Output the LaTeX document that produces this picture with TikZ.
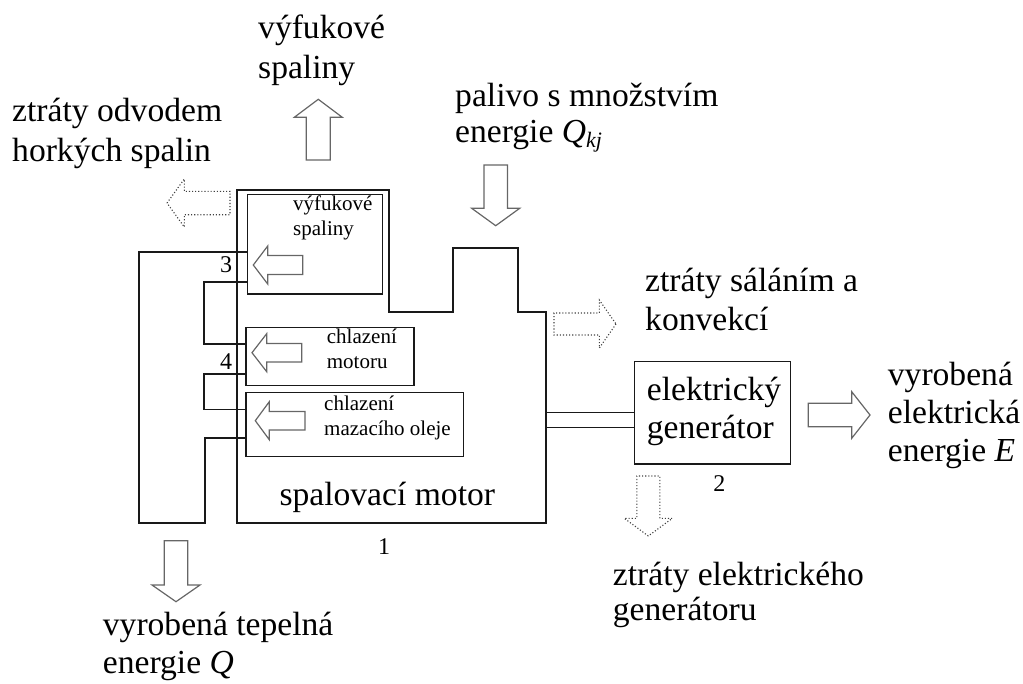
\documentclass[tikz,border=0pt]{standalone}
\usepackage{fontspec}
\setmainfont{Liberation Serif}
\newcommand\blockarrow[7]{%
  % #1 style, #2 tip, #3 direction, #4 total length, #5 head length, #6 head half-width, #7 shaft half-width
  \draw[#1,shift={#2},rotate=#3] (0,0) -- (-#5,#6) -- (-#5,#7) -- (-#4,#7)
    -- (-#4,-#7) -- (-#5,-#7) -- (-#5,-#6) -- cycle;}
\begin{document}
\begin{tikzpicture}[x=1pt,y=-1pt,
  wall/.style={draw=black!90,line width=1.3pt},
  box/.style={draw=black!90,line width=1.3pt,rectangle,inner sep=0pt,anchor=north west},
  flow/.style={draw=black!60,line width=1.2pt,line join=miter},
  loss/.style={draw=black!75,line width=1.1pt,dotted,line join=miter},
  big/.style={inner sep=0pt,anchor=base west,align=left,font=\fontsize{33.6}{38.5}\selectfont},
  small/.style={inner sep=0pt,anchor=base west,align=left,font=\fontsize{21}{24.3}\selectfont},
  num/.style={inner sep=0pt,font=\fontsize{24}{24}\selectfont}]
\useasboundingbox (0,0) rectangle (1023,683);

% engine casing with the fuel inlet step on top
\draw[wall] (237,523) -- (237,190) -- (389,190) -- (389,312) -- (453,312)
  -- (453,248) -- (518,248) -- (518,312) -- (546,312) -- (546,523) -- cycle;
\coordinate (shaftA) at (546,412.3);
\coordinate (shaftB) at (546,427.3);

% heat exchangers inside the engine
\node[box,minimum width=135pt,minimum height=99.3pt] (exh) at (246.7,194) {};
\node[box,minimum width=168pt,minimum height=58.3pt] (cool) at (245.3,326.7) {};
\node[box,minimum width=217.4pt,minimum height=64pt] (oil) at (245.3,392) {};

% electric generator
\node[box,minimum width=156pt,minimum height=102.3pt] (gen) at (634,361) {};
\node[big,font=\fontsize{33.6}{38.3}\selectfont] (gentext) at (646.7,438.3) {elektrický\\generátor};

% shaft between engine and generator
\draw[wall] (shaftA) -- (gen.west |- shaftA);
\draw[wall] (shaftB) -- (gen.west |- shaftB);

% water circuit through the exchangers
\draw[wall] (exh.west |- 0,252) -- (139,252) -- (139,523) -- (205,523) -- (205,438) -- (oil.west |- 0,438);
\draw[wall] (exh.west |- 0,282) -- (204,282) -- (204,344) -- (cool.west |- 0,344);
\draw[wall] (cool.west |- 0,374) -- (204,374) -- (204,409.3) -- (oil.west |- 0,409.3);

% heat flow arrows inside the exchangers
\blockarrow{flow}{(253.3,265)}{180}{49.4}{14.4}{19}{9.5}
\blockarrow{flow}{(252,352.7)}{180}{49.7}{14.7}{19}{9.2}
\blockarrow{flow}{(255.3,420.7)}{180}{49.7}{14}{19}{9.2}

% energy flows in and out
\blockarrow{flow}{(318.3,99.3)}{90}{60.7}{18}{24}{12}
\blockarrow{flow}{(495.7,225.7)}{-90}{60.7}{17.4}{24}{11.7}
\blockarrow{flow}{(870,415)}{0}{61.7}{18.3}{23.3}{11.7}
\blockarrow{flow}{(176,601.7)}{-90}{61}{16.7}{24}{11.7}

% losses
\blockarrow{loss}{(167,203)}{180}{63}{17.3}{24}{11.7}
\blockarrow{loss}{(616,324)}{0}{62}{16.7}{24}{11}
\blockarrow{loss}{(648.3,536)}{-90}{60}{17.7}{24}{11.5}

% labels (anchored at the baseline of their last line)
\node[big,font=\fontsize{33.6}{40}\selectfont] (tExh) at (258,78) {výfukové\\spaliny};
\node[big,font=\fontsize{33.6}{40}\selectfont] (tHot) at (12,161.7) {ztráty odvodem\\horkých spalin};
\node[big,font=\fontsize{33.6}{36}\selectfont] (tFuel) at (455,142) {palivo s množstvím\\energie \textit{Q}\raisebox{-5pt}{\fontsize{22}{22}\selectfont\itshape kj}};
\node[big] (tRad) at (645,330.2) {ztráty sáláním a\\konvekcí};
\node[big,font=\fontsize{33.6}{38.3}\selectfont] (tEl) at (887.7,461.6) {vyrobená\\elektrická\\energie \textit{E}};
\node[big] (tEng) at (279.3,505) {spalovací motor};
\node[big,font=\fontsize{33.6}{35}\selectfont] (tGenLoss) at (612.7,620) {ztráty elektrického\\generátoru};
\node[big,font=\fontsize{33.6}{38.3}\selectfont] (tHeat) at (102.7,673.3) {vyrobená tepelná\\energie \textit{Q}};

\node[small] (sExh) at (293,235) {výfukové\\spaliny};
\node[small] (sCool) at (326.7,368) {chlazení\\motoru};
\node[small] (sOil) at (324,435) {chlazení\\mazacího oleje};

\node[num] (n1) at (384,546.7) {1};
\node[num] (n2) at (719.3,484) {2};
\node[num] (n3) at (226,265) {3};
\node[num] (n4) at (226,361.7) {4};
\end{tikzpicture}
\end{document}
